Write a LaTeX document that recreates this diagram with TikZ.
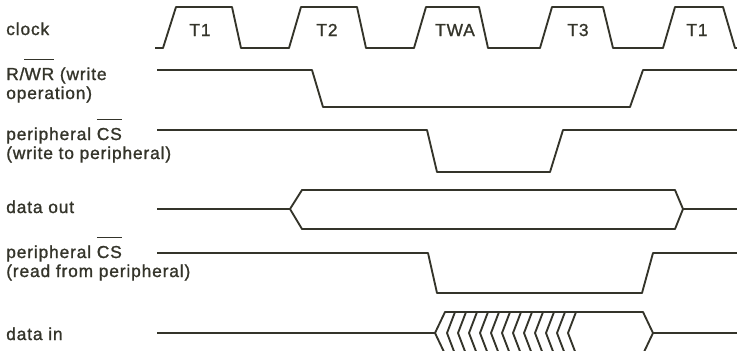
\documentclass[tikz,border=0pt]{standalone}
\usepackage{fontspec}
\setmainfont{Liberation Sans}[LetterSpace=5, FakeBold=1.2]
\definecolor{ink}{RGB}{52,52,42}
% signal name with a bar over it
\newcommand{\negsig}[1]{\setbox0\hbox{#1}\rlap{\rule[\dimexpr\ht0+6pt\relax]{\wd0}{0.8pt}}\box0\relax}
\begin{document}
\begin{tikzpicture}[x=0.75pt, y=-0.75pt,
    sig/.style={line width=1.4pt, ink, line join=round},
    lbl/.style={anchor=base west, inner sep=0pt, text=ink,
        font=\fontsize{13}{15}\selectfont},
    tname/.style={anchor=base, inner sep=0pt, text=ink,
        font=\fontsize{13}{15}\selectfont}]
    \clip (0,0) rectangle (737,350);
    % clock
    \node[lbl] (clk) at (6,35) {clock};
    \draw[sig] (155,48) -- (163,48) -- (176,7) -- (232,7) -- (241,48) -- (289,48) -- (301,7) -- (357,7) -- (366,48) -- (414,48) -- (426,7) -- (479,7) -- (488,48) -- (540,48) -- (552,7) -- (603,7) -- (613,48) -- (663,48) -- (675,7) -- (723,7) -- (735,48) -- (745,48);
    \node[tname] (t1) at (200,36) {T1};
    \node[tname] (t2) at (327,36) {T2};
    \node[tname] (twa) at (455,36) {TWA};
    \node[tname] (t3) at (578,36) {T3};
    \node[tname] (t1b) at (697,36) {T1};
    % R/WR
    \node[lbl] (rw) at (6,80) {R/\negsig{WR} (write};
    \node[lbl] (rw2) at (6,99) {operation)};
    \draw[sig] (157,70) -- (312,70) -- (323,107) -- (630,107) -- (643,70) -- (745,70);
    % CS, write
    \node[lbl] (csw) at (6,140) {peripheral \negsig{CS}};
    \node[lbl] (csw2) at (6,159) {(write to peripheral)};
    \draw[sig] (157,130) -- (427,130) -- (437,172) -- (550,172) -- (563,130) -- (745,130);
    % data out
    \node[lbl] (dout) at (6,213) {data out};
    \draw[sig] (157,209) -- (290,209) -- (302,190) -- (675,190) -- (683,209) -- (745,209);
    \draw[sig] (290,209) -- (302,229) -- (675,229) -- (683,209);
    % CS, read
    \node[lbl] (csr) at (6,258) {peripheral \negsig{CS}};
    \node[lbl] (csr2) at (6,277) {(read from peripheral)};
    \draw[sig] (157,253) -- (428,253) -- (437,293) -- (642,293) -- (653,253) -- (745,253);
    % data in
    \node[lbl] (din) at (6,340) {data in};
    \draw[sig] (157,333) -- (435,333) -- (445,312) -- (643,312) -- (653,333) -- (745,333);
    \draw[sig] (435,333) -- (445,354) -- (643,354) -- (653,333);
    \foreach \i in {0,...,11}
        \draw[sig] ({455+11*\i},312) -- ({447+11*\i},333) -- ({455+11*\i},354);
\end{tikzpicture}
\end{document}
